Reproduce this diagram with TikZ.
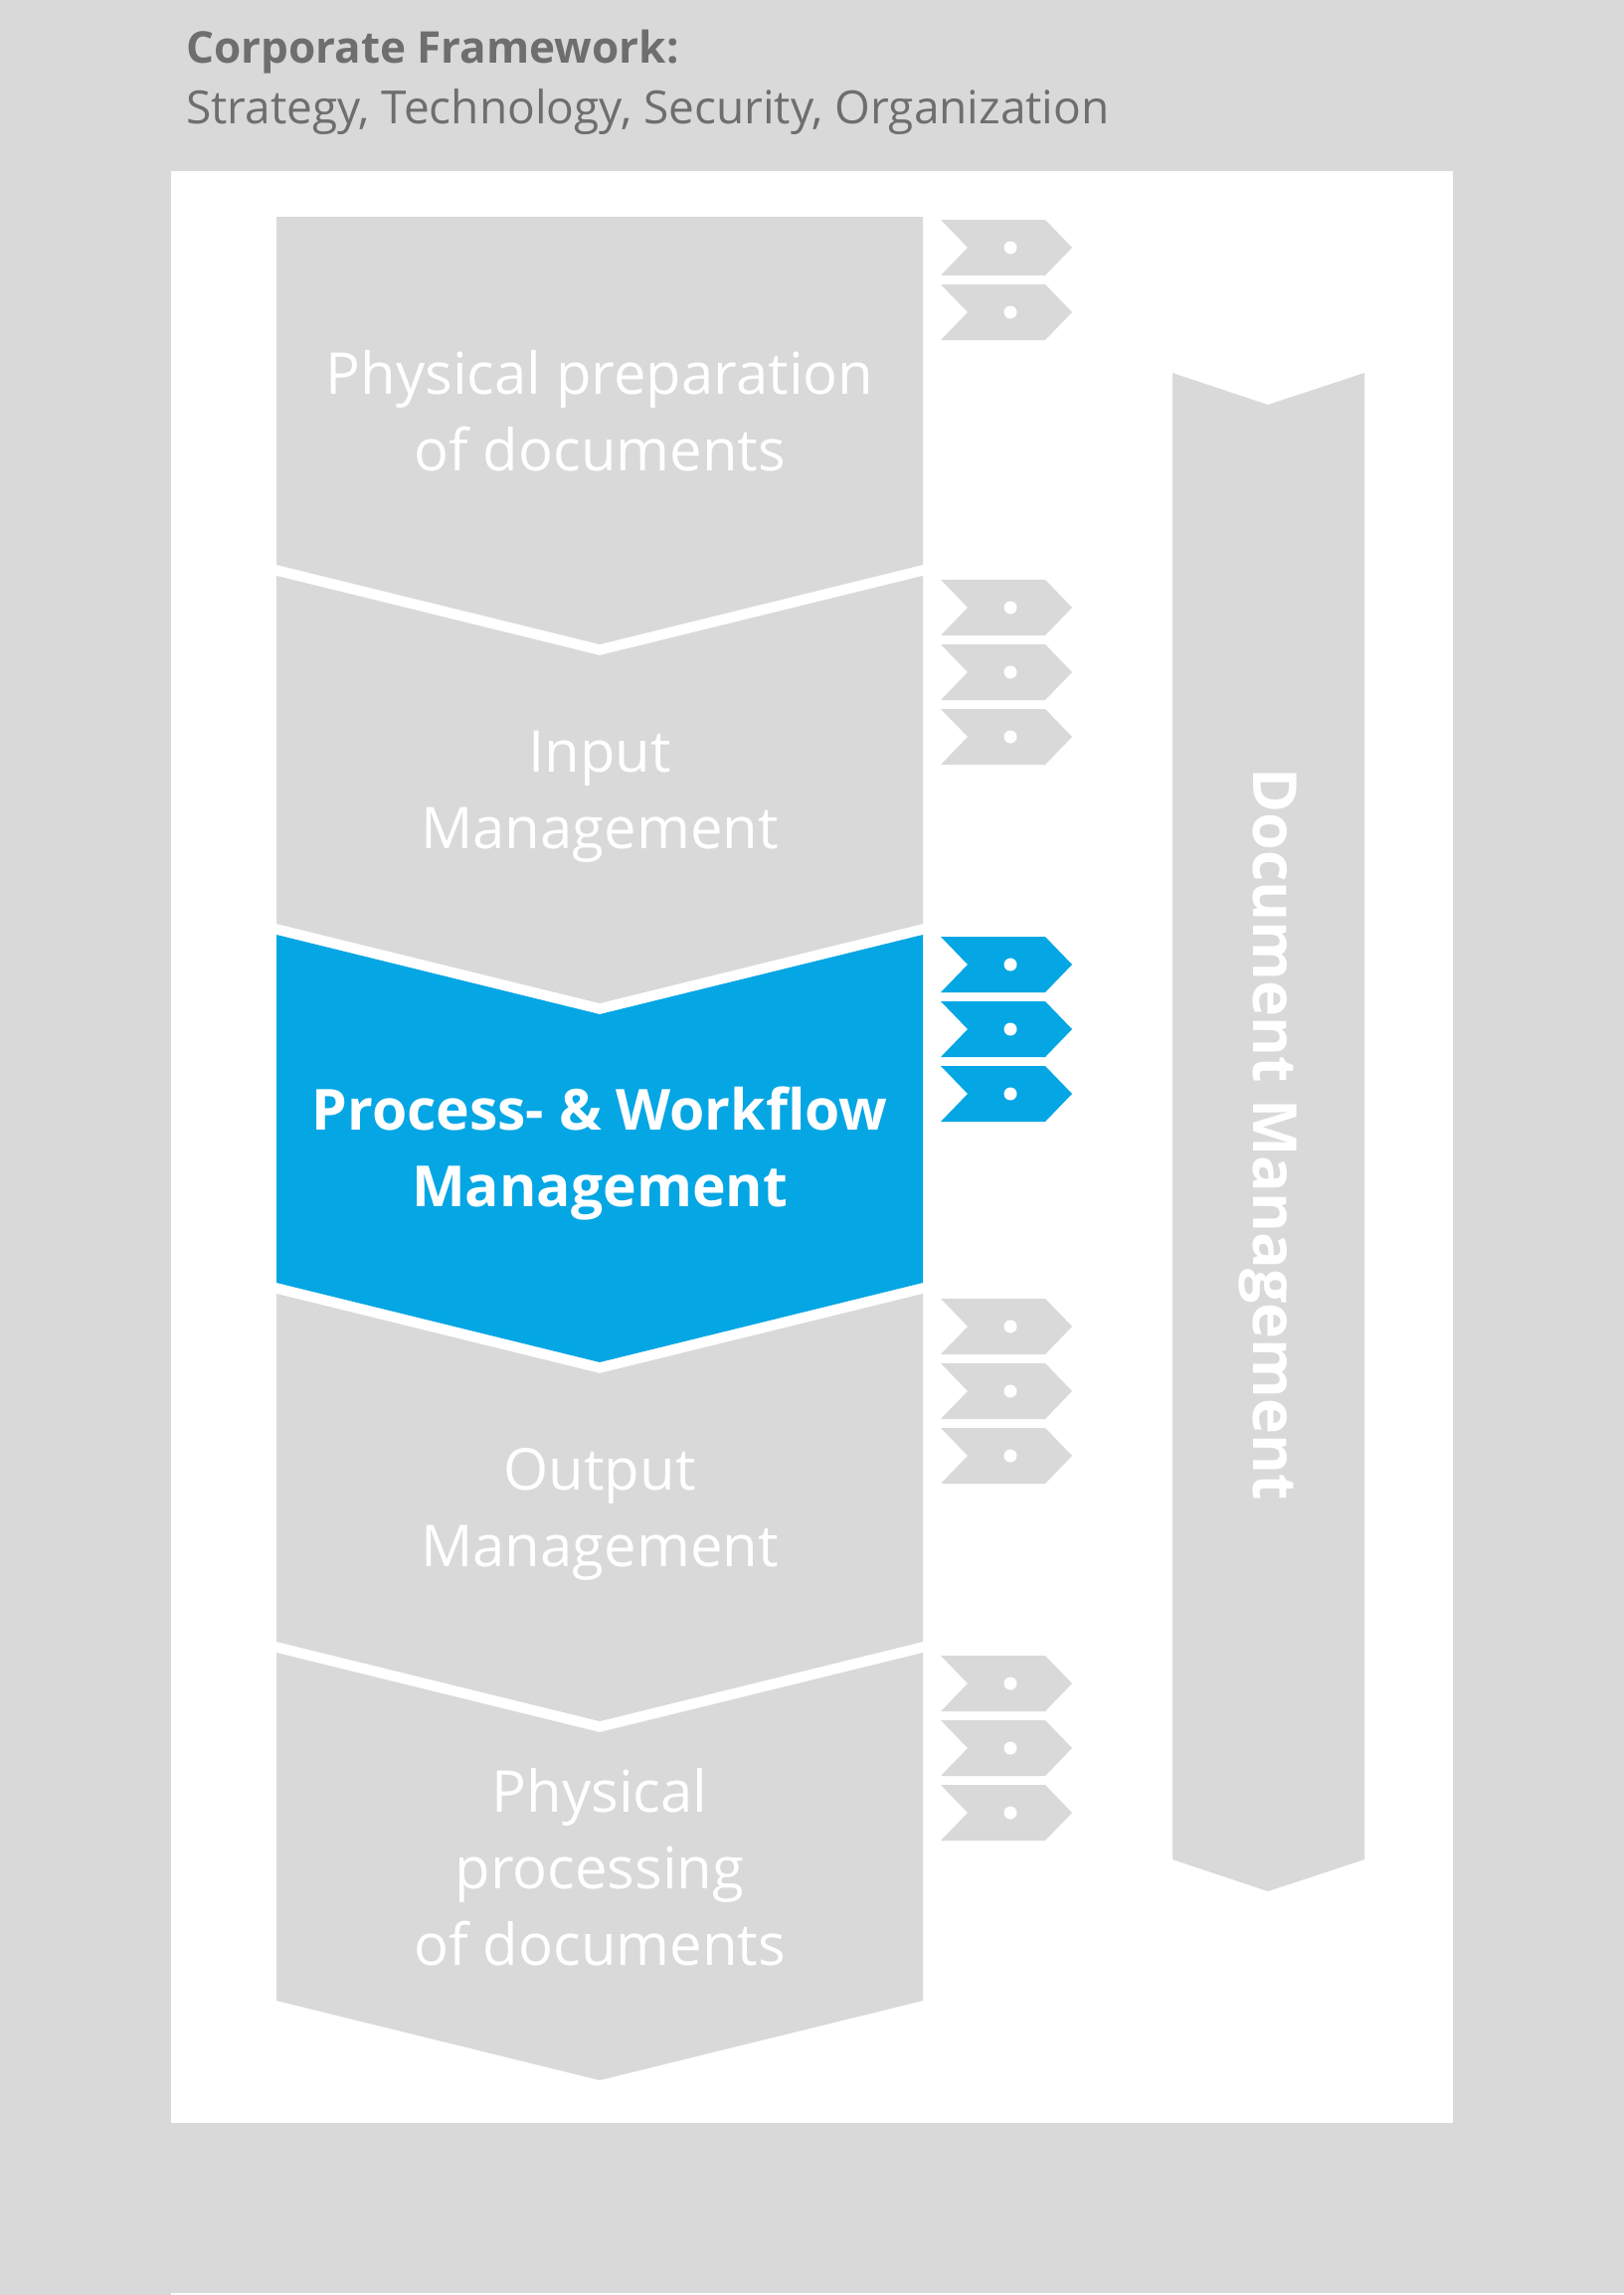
\documentclass[tikz,border=0pt]{standalone}
\usepackage{fontspec}
\setmainfont{Open Sans}
\usetikzlibrary{positioning}
\definecolor{PanelGray}{HTML}{D9D9D9}
\definecolor{ActiveBlue}{HTML}{05A6E4}
\definecolor{HeadGray}{HTML}{6E6E6E}

\begin{document}
\begin{tikzpicture}[
  x=1pt, y=-1pt,
  phase/.style={fill=PanelGray},
  activephase/.style={fill=ActiveBlue},
  phasetext/.style={
    text=white,
    align=center,
    inner sep=0pt,
    font=\fontsize{58}{77}\selectfont
  },
  activetext/.style={
    phasetext,
    font=\fontsize{57}{77}\selectfont\bfseries
  },
  headtext/.style={
    text=HeadGray,
    inner sep=0pt,
    anchor=base west,
    font=\fontsize{46}{52}\selectfont
  },
  sidetext/.style={
    text=white,
    inner sep=0pt,
    rotate=-90,
    font=\fontsize{61}{70}\selectfont\bfseries
  }
]

% Background and panel
\useasboundingbox (0,0) rectangle (1633,2308);
\fill[PanelGray] (0,0) rectangle (1633,2308);
\fill[white] (172,172) rectangle (1461,2135);
\draw[white, line width=2pt] (172,2307) -- (1633,2307);

% Header
\node[headtext, font=\fontsize{44}{52}\selectfont\bfseries]
  (title) at (187,63) {Corporate Framework:};
\node[headtext]
  (scope) at (187,124) {Strategy, Technology, Security, Organization};

% Phase chevrons
\fill[phase] (278,218) -- (928,218) -- (928,568) -- (603,648) -- (278,568) -- cycle;
\foreach \t in {579,1301,1662}
  \fill[phase] (278,\t) -- (603,\t+80) -- (928,\t) -- (928,\t+350)
    -- (603,\t+430) -- (278,\t+350) -- cycle;
\fill[activephase] (278,940) -- (603,1020) -- (928,940) -- (928,1290)
  -- (603,1370) -- (278,1290) -- cycle;

% Phase labels
\node[phasetext] (prep) at (603,413) {Physical preparation\\of documents};
\node[phasetext] (input) at (603,801) {Input\\Management};
\node[activetext] (workflow) at (603,1160) {Process- \& Workflow\\Management};
\node[phasetext] (output) at (603,1523) {Output\\Management};
\node[phasetext] (processing) at (603,1878) {Physical\\processing\\of documents};

% Tags
\foreach \y in {221,286,583,648,713,1306,1371,1436,1665,1730,1795} {
  \fill[phase] (946,\y) -- ++(105,0) -- ++(27,28) -- ++(-27,28)
    -- ++(-105,0) -- ++(27,-28) -- cycle;
  \fill[white] (1016,\y+28) circle (6.5);
}
\foreach \y in {942,1007,1072} {
  \fill[activephase] (946,\y) -- ++(105,0) -- ++(27,28) -- ++(-27,28)
    -- ++(-105,0) -- ++(27,-28) -- cycle;
  \fill[white] (1016,\y+28) circle (6.5);
}

% Document management
\fill[phase] (1179,375) -- (1275,407) -- (1372,375) -- (1372,1870)
  -- (1275,1902) -- (1179,1870) -- cycle;
\node[sidetext] (docmgmt) at (1275,1141) {Document Management};

\end{tikzpicture}
\end{document}
